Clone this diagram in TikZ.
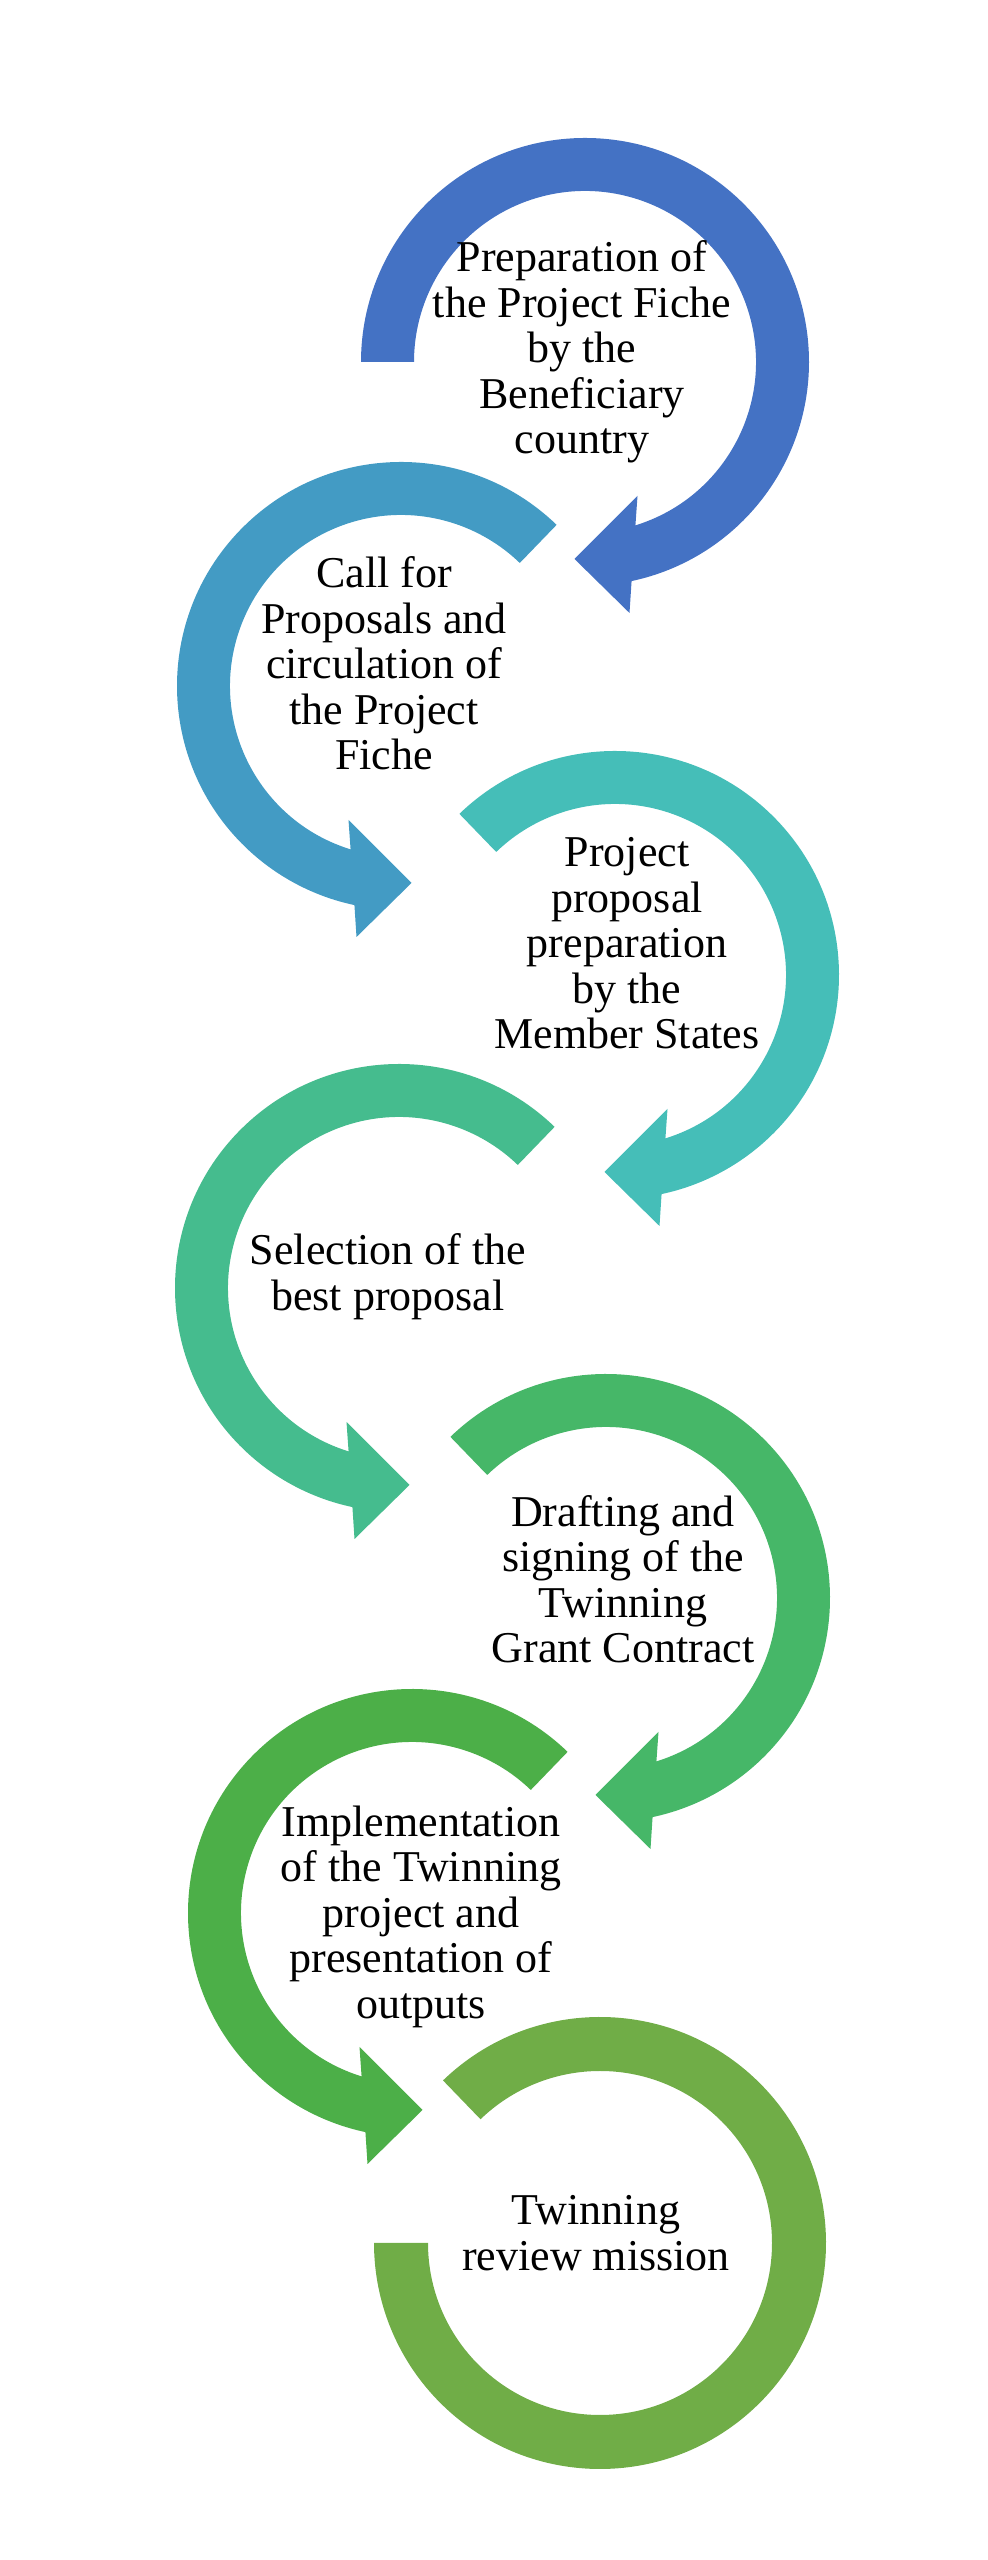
\documentclass[tikz,border=0pt]{standalone}
\usepackage{fontspec}
\setmainfont{Liberation Serif}
\usepackage{tikz}

\definecolor{stepA}{HTML}{4472C4}
\definecolor{stepB}{HTML}{439BC4}
\definecolor{stepC}{HTML}{45BEB8}
\definecolor{stepD}{HTML}{45BC8E}
\definecolor{stepE}{HTML}{46B768}
\definecolor{stepF}{HTML}{4CAF48}
\definecolor{stepG}{HTML}{70AD47}

\begin{document}
\begin{tikzpicture}[x = 1pt, y = 1pt, ring/.style = {draw=none}, steptext/.style = {align=center, inner sep=0pt, text=black, font=\fontsize{44}{45.5}\selectfont, execute at begin node=\strut, execute at end node=\strut}]

    \useasboundingbox (0,0) rectangle (988,2560);

    % centres
    \coordinate (c1) at (585,2198);
    \coordinate (c2) at (401,1874);
    \coordinate (c3) at (615,1585);
    \coordinate (c4) at (399,1272);
    \coordinate (c5) at (606,962);
    \coordinate (c6) at (412,647);
    \coordinate (c7) at (600,317);

    % arrows, right column (clockwise)
    \fill[ring, stepA, shift={(c1)}] (180:224) arc[start angle=180, end angle=-78, radius=224] -- (44.5,-251) -- (-10.5,-197) -- (52.5,-134) -- (-72.85:171) arc[start angle=-72.85, end angle=180, radius=171] -- cycle;
    \fill[ring, stepC, shift={(c3)}] (134:224) arc[start angle=134, end angle=-78, radius=224] -- (44.5,-251) -- (-10.5,-197) -- (52.5,-134) -- (-72.85:171) arc[start angle=-72.85, end angle=134, radius=171] -- cycle;
    \fill[ring, stepE, shift={(c5)}] (134:224) arc[start angle=134, end angle=-78, radius=224] -- (44.5,-251) -- (-10.5,-197) -- (52.5,-134) -- (-72.85:171) arc[start angle=-72.85, end angle=134, radius=171] -- cycle;

    % arrows, left column (counter-clockwise)
    \fill[ring, stepB, shift={(c2)}] (46:224) arc[start angle=46, end angle=258, radius=224] -- (-44.5,-251) -- (10.5,-197) -- (-52.5,-134) -- (252.85:171) arc[start angle=252.85, end angle=46, radius=171] -- cycle;
    \fill[ring, stepD, shift={(c4)}] (46:224) arc[start angle=46, end angle=258, radius=224] -- (-44.5,-251) -- (10.5,-197) -- (-52.5,-134) -- (252.85:171) arc[start angle=252.85, end angle=46, radius=171] -- cycle;
    \fill[ring, stepF, shift={(c6)}] (46:224) arc[start angle=46, end angle=258, radius=224] -- (-44.5,-251) -- (10.5,-197) -- (-52.5,-134) -- (252.85:171) arc[start angle=252.85, end angle=46, radius=171] -- cycle;

    % last ring, no head
    \fill[ring, stepG, shift={(c7)}] (134:226) arc[start angle=134, end angle=-180, radius=226] -- (180:172) arc[start angle=-180, end angle=134, radius=172] -- cycle;

    % labels
    \node[steptext] (prep) at (582,2206) {Preparation of\\the Project Fiche\\by the\\Beneficiary\\country};
    \node[steptext] (call) at (384,1890) {Call for\\Proposals and\\circulation of\\the Project\\Fiche};
    \node[steptext] (proposal) at (627,1610) {Project\\proposal\\preparation\\by the\\Member States};
    \node[steptext] (selection) at (388,1281) {Selection of the\\best proposal};
    \node[steptext] (contract) at (623,974) {Drafting and\\signing of the\\Twinning\\Grant Contract};
    \node[steptext] (implement) at (421,641) {Implementation\\of the Twinning\\project and\\presentation of\\outputs};
    \node[steptext] (review) at (596,320) {Twinning\\review mission};

\end{tikzpicture}
\end{document}
